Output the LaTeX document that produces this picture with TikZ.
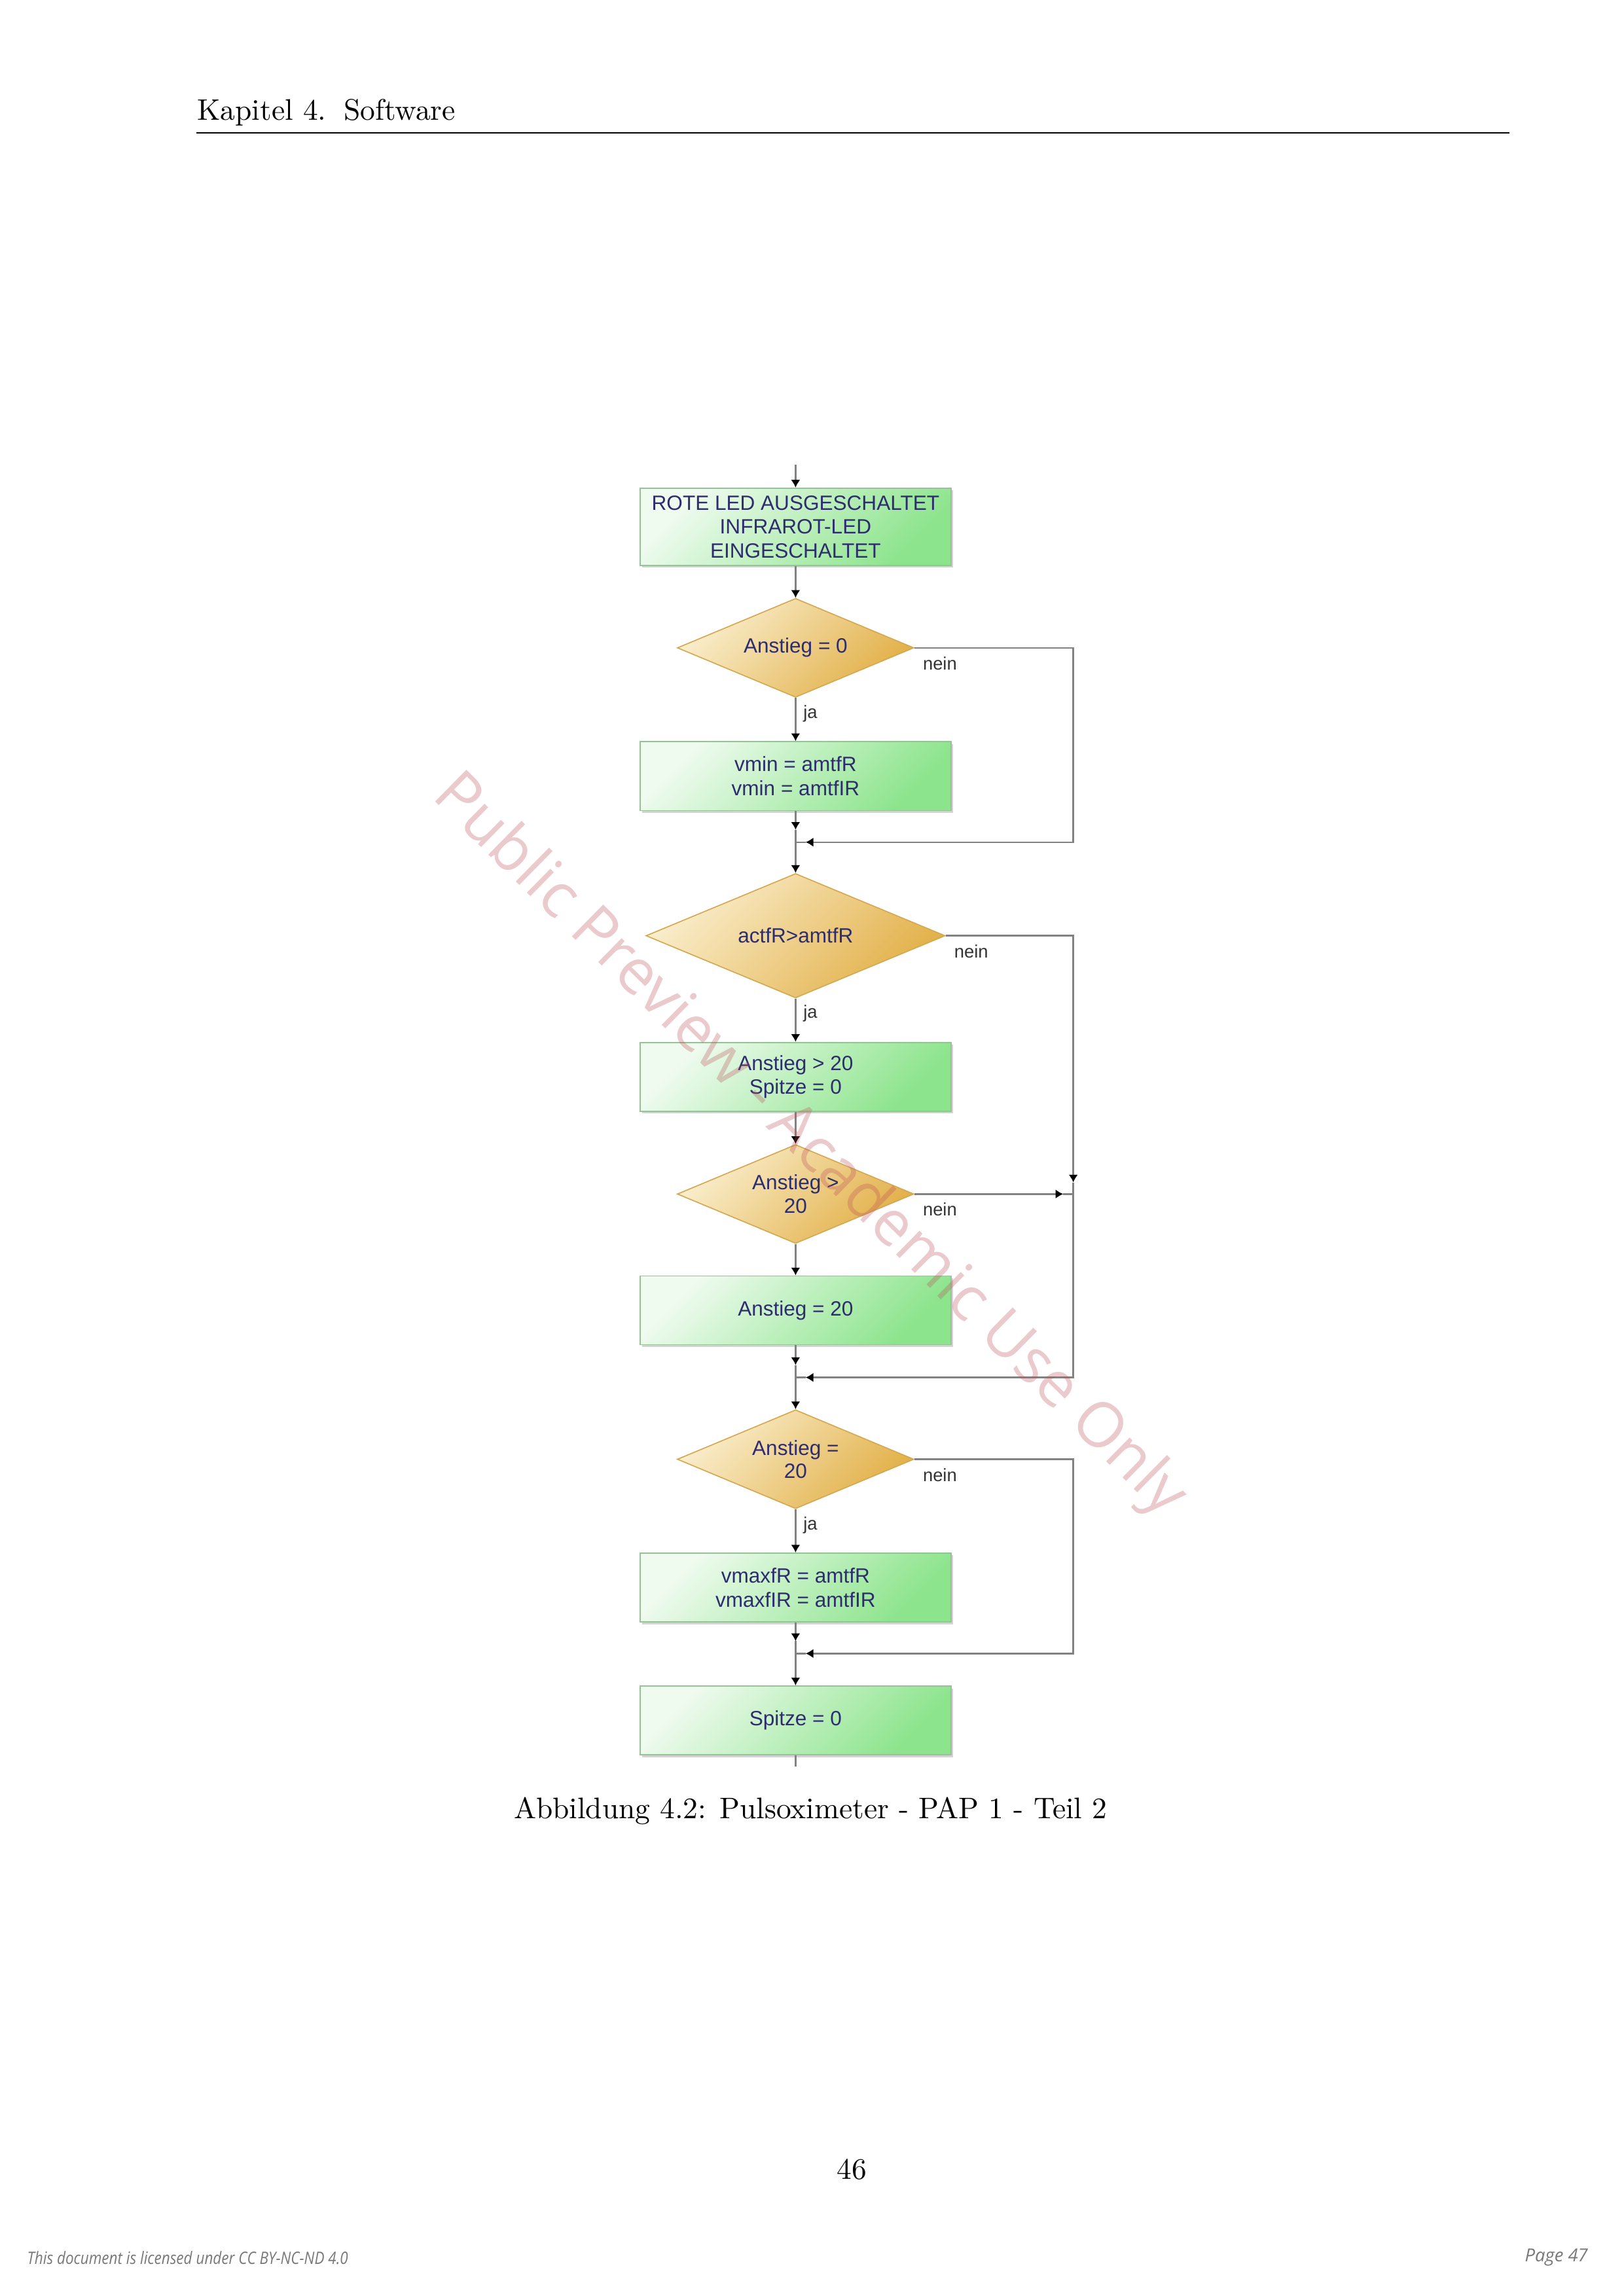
\documentclass[tikz,border=0pt]{standalone}
\usepackage{fontspec}
\newfontfamily\papfont{Liberation Sans}
\newfontfamily\notefont{Open Sans}
\usetikzlibrary{shapes.geometric,arrows.meta,shadows}
\definecolor{paptext}{RGB}{45,45,110}
\definecolor{boxlight}{RGB}{240,251,240}
\definecolor{boxdark}{RGB}{140,228,140}
\definecolor{boxline}{RGB}{150,195,150}
\definecolor{rautelight}{RGB}{250,238,205}
\definecolor{rautedark}{RGB}{226,176,72}
\definecolor{rauteline}{RGB}{212,168,80}
\definecolor{pfeil}{RGB}{130,130,130}
\definecolor{wasser}{RGB}{190,80,90}
\definecolor{fusstext}{RGB}{120,120,120}
\begin{document}
\begin{tikzpicture}[>={Latex[length=1mm,width=1.2mm,color=black]},
  schritt/.style={rectangle, draw=boxline, top color=boxlight, bottom color=boxdark, shading angle=45,
    drop shadow={shadow xshift=0.25mm, shadow yshift=-0.3mm, opacity=0.35},
    minimum width=4.02cm, minimum height=0.89cm, align=center, inner sep=1pt,
    font=\papfont\fontsize{7.6}{8.8}\selectfont, text=paptext},
  raute/.style={diamond, aspect=2.4, draw=rauteline, top color=rautelight, bottom color=rautedark, shading angle=45,
    minimum width=3.06cm, minimum height=1.28cm, align=center, inner sep=0pt,
    font=\papfont\fontsize{7.6}{8.5}\selectfont, text=paptext},
  linie/.style={draw=pfeil, line width=0.6pt},
  marke/.style={font=\papfont\fontsize{6.6}{7}\selectfont, text=black!80, inner sep=0pt}]
\useasboundingbox (0,0) rectangle (21,-29.7);

\node[anchor=base west, inner sep=0, font=\fontsize{10.95}{13.6}\selectfont] (kopf) at (2.545,-1.557) {Kapitel 4.\enskip\kern1pt Software};
\draw[line width=0.4pt] (2.54,-1.721) -- (19.52,-1.721);

\node[schritt, minimum height=1cm] (led) at (10.29,-6.814) {ROTE LED AUSGESCHALTET\\INFRAROT-LED\\EINGESCHALTET};
\node[raute] (r1) at (10.29,-8.380) {Anstieg = 0};
\node[schritt] (vmin) at (10.29,-10.039) {vmin = amtfR\\vmin = amtfIR};
\node[raute, minimum width=3.87cm, minimum height=1.61cm] (r2) at (10.29,-12.104) {actfR>amtfR};
\node[schritt] (spitze1) at (10.29,-13.929) {Anstieg > 20\\Spitze = 0};
\node[raute] (r3) at (10.29,-15.445) {Anstieg >\\20};
\node[schritt] (anstieg) at (10.29,-16.950) {Anstieg = 20};
\node[raute] (r4) at (10.29,-18.876) {Anstieg =\\20};
\node[schritt] (vmax) at (10.29,-20.535) {vmaxfR = amtfR\\vmaxfIR = amtfIR};
\node[schritt] (spitze2) at (10.29,-22.254) {Spitze = 0};

\coordinate (start) at (10.29,-6.01);
\coordinate (j1) at (10.29,-10.894);
\coordinate (j3) at (10.29,-17.818);
\coordinate (j4) at (10.29,-21.389);
\coordinate (ende) at (10.29,-22.854);
\coordinate (rechts) at (13.882,-8.38);
\coordinate (j2) at (r3.east -| rechts);

\draw[linie,->] (start) -- (led);
\draw[linie,->] (led) -- (r1);
\draw[linie,->] (r1) -- node[marke, right=0.9mm, pos=0.37] {ja} (vmin);
\draw[linie,->] (r1.east) -- node[marke, pos=0, anchor=north west, xshift=1mm, yshift=-1.1mm] {nein} (r1.east -| rechts) |- ([xshift=1.3mm]j1);
\draw[linie] ([xshift=1.3mm]j1) -- (j1);
\draw[linie,->] (vmin) -- ([yshift=1.6mm]j1);
\draw[linie,->] ([yshift=1.6mm]j1) -- (r2);

\draw[linie,->] (r2) -- node[marke, right=0.9mm, pos=0.35] {ja} (spitze1);
\draw[linie,->] (r2.east) -- node[marke, pos=0, anchor=north west, xshift=1mm, yshift=-1.1mm] {nein} (r2.east -| rechts) -- ([yshift=1.5mm]j2);
\draw[linie,->] (spitze1) -- (r3);
\draw[linie,->] (r3) -- (anstieg);
\draw[linie,->] (r3.east) -- node[marke, pos=0, anchor=north west, xshift=1mm, yshift=-1mm] {nein} ([xshift=-1.3mm]j2);
\draw[linie] ([xshift=-1.3mm]j2) -- (j2);
\draw[linie,->] ([yshift=1.5mm]j2) |- ([xshift=1.3mm]j3);
\draw[linie] ([xshift=1.3mm]j3) -- (j3);
\draw[linie,->] (anstieg) -- ([yshift=1.6mm]j3);
\draw[linie,->] ([yshift=1.6mm]j3) -- (r4);

\draw[linie,->] (r4) -- node[marke, right=0.9mm, pos=0.37] {ja} (vmax);
\draw[linie,->] (r4.east) -- node[marke, pos=0, anchor=north west, xshift=1mm, yshift=-1.1mm] {nein} (r4.east -| rechts) |- ([xshift=1.3mm]j4);
\draw[linie] ([xshift=1.3mm]j4) -- (j4);
\draw[linie,->] (vmax) -- ([yshift=1.6mm]j4);
\draw[linie,->] ([yshift=1.6mm]j4) -- (spitze2);
\draw[linie] (spitze2) -- (ende);

\node[anchor=base, inner sep=0, font=\fontsize{10.95}{13.6}\selectfont] (titel) at (10.483,-23.523) {Abbildung 4.2: Pulsoximeter - PAP 1 - Teil 2};
\node[anchor=base, inner sep=0, font=\fontsize{10.95}{13.6}\selectfont] (seite) at (11.02,-28.187) {46};
\node[anchor=base west, inner sep=0, xscale=0.86, transform shape, font=\notefont\itshape\fontsize{6.3}{7}\selectfont, text=fusstext] (lizenz) at (0.347,-29.287) {This document is licensed under CC BY-NC-ND 4.0};
\node[anchor=base east, inner sep=0, font=\notefont\itshape\fontsize{6.6}{7}\selectfont, text=fusstext] (blatt) at (20.544,-29.253) {Page 47};

\node[rotate=-44.5, inner sep=0, opacity=0.3, font=\notefont\fontsize{23}{27}\selectfont, text=wasser] (vorschau) at (10.46,-14.83) {Public Preview - Academic Use Only};
\end{tikzpicture}
\end{document}
